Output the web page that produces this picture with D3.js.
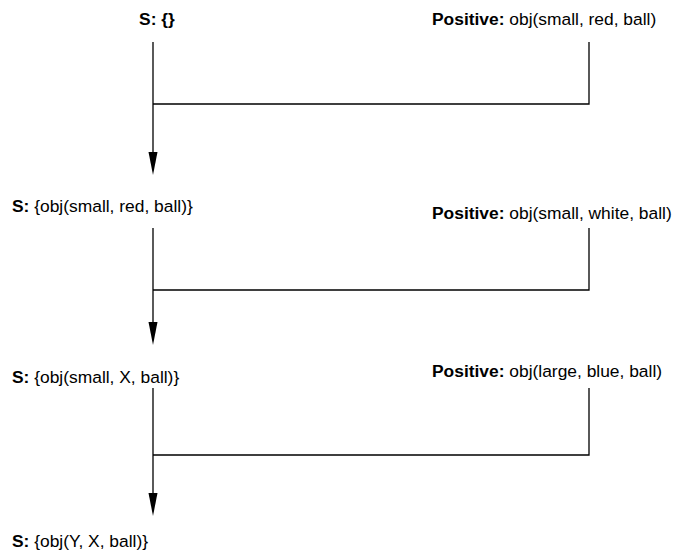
<!DOCTYPE html>
<html>
<head>
<meta charset="utf-8">
<script src="https://cdn.jsdelivr.net/npm/d3@7"></script>
<style>
  html, body { margin: 0; padding: 0; background: #fff; }
  svg { display: block; }
  text { font-family: "Liberation Sans", Arial, Helvetica, sans-serif; font-size: 17.4px; fill: #000; }
</style>
</head>
<body>
<svg id="chart" width="674" height="552"></svg>
<script>
// Data
const stateLabels = ["{}", "{obj(small, red, ball)}", "{obj(small, X, ball)}", "{obj(Y, X, ball)}"];
const positiveLabels = ["obj(small, red, ball)", "obj(small, white, ball)", "obj(large, blue, ball)"];
const stateBaselines = [25, 212, 383, 547];
const positiveBaselines = [25, 219, 377];

const svg = d3.select("#chart");

const mainX = 153, rightX = 589, textX = 12, posX = 432;
const stepDefs = [
  { top: 42, join: 104, tip: 175 },
  { top: 228, join: 290, tip: 345 },
  { top: 388, join: 455, tip: 516 }
];

// State texts
stateLabels.forEach((lab, i) => {
  const t = svg.append("text").attr("y", stateBaselines[i]);
  if (i === 0) {
    t.attr("x", 157).attr("text-anchor", "middle")
      .append("tspan").attr("font-weight", "bold").text("S: " + lab);
  } else {
    t.attr("x", textX);
    t.append("tspan").attr("font-weight", "bold").text("S:");
    t.append("tspan").text(" " + lab);
  }
});

// Positive texts
positiveLabels.forEach((lab, i) => {
  const t = svg.append("text").attr("x", posX).attr("y", positiveBaselines[i]);
  t.append("tspan").attr("font-weight", "bold").text("Positive:");
  t.append("tspan").text(" " + lab);
});

// Connectors
const line = d3.line();
stepDefs.forEach(s => {
  svg.append("path")
    .attr("d", line([[rightX, s.top], [rightX, s.join], [mainX, s.join]]))
    .attr("fill", "none").attr("stroke", "#000").attr("stroke-width", 1.3);
  svg.append("path")
    .attr("d", line([[mainX, s.top], [mainX, s.tip - 22]]))
    .attr("fill", "none").attr("stroke", "#000").attr("stroke-width", 1.3);
  svg.append("path")
    .attr("d", line([[mainX - 4.5, s.tip - 23], [mainX + 4.5, s.tip - 23], [mainX, s.tip]]) + "Z")
    .attr("fill", "#000").attr("stroke", "none");
});
</script>
</body>
</html>
